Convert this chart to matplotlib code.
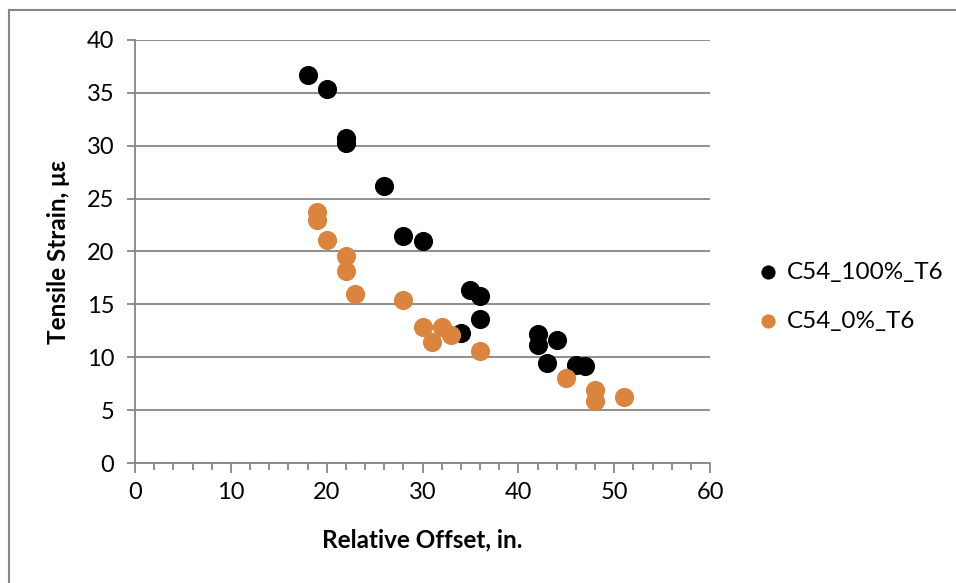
import matplotlib
matplotlib.use("Agg")
import matplotlib.pyplot as plt
from matplotlib.lines import Line2D
from matplotlib.ticker import MultipleLocator

plt.rcParams['font.family'] = ['Lato', 'DejaVu Sans']

# Relative offset (in.) and tensile strain (microstrain)
offset_100 = [18, 20, 22, 22, 26, 28, 30, 35, 36, 36, 34, 42, 42, 44, 43, 46, 47]
strain_100 = [36.7, 35.4, 30.7, 30.3, 26.2, 21.5, 21.0, 16.4, 15.8, 13.6, 12.3,
              12.2, 11.2, 11.6, 9.5, 9.3, 9.2]

offset_0 = [19, 19, 20, 22, 22, 23, 28, 30, 32, 31, 33, 36, 45, 48, 48, 51]
strain_0 = [23.7, 23.0, 21.1, 19.6, 18.2, 16.0, 15.4, 12.9, 12.9, 11.4, 12.1,
            10.6, 8.0, 6.9, 5.9, 6.2]

series_labels = ["C54_100%_T6", "C54_0%_T6"]
x_ticks = [0, 10, 20, 30, 40, 50, 60]
y_ticks = [0, 5, 10, 15, 20, 25, 30, 35, 40]

W, H = 956, 583
fig = plt.figure(figsize=(W / 100, H / 100), dpi=100)
ax = fig.add_axes([135 / W, 1 - 463 / H, (710 - 135) / W, (463 - 40) / H])

grey = "#868686"
ax.scatter(offset_100, strain_100, s=190, color="black", label=series_labels[0],
           zorder=3, linewidths=0)
ax.scatter(offset_0, strain_0, s=190, color="#DB843D", label=series_labels[1],
           zorder=3, linewidths=0)

ax.set_xlim(0, 60)
ax.set_ylim(0, 40)
ax.set_xticks(x_ticks)
ax.set_yticks(y_ticks)
ax.xaxis.set_minor_locator(MultipleLocator(2))
ax.yaxis.grid(True, color=grey, linewidth=1.3)
ax.set_axisbelow(True)

for side in ("top", "right"):
    ax.spines[side].set_visible(False)
for side in ("left", "bottom"):
    ax.spines[side].set_color(grey)
    ax.spines[side].set_linewidth(1.3)

ax.tick_params(axis="x", which="major", direction="out", length=7, width=1.3,
               color=grey, labelsize=17, pad=7)
ax.tick_params(axis="x", which="minor", direction="out", length=5, width=1.3,
               color=grey)
ax.tick_params(axis="y", which="major", direction="out", length=6, width=1.3,
               color=grey, labelsize=17, pad=9)

ax.set_xlabel("Relative Offset, in.", fontsize=17.5, fontweight="bold", labelpad=18)
ax.set_ylabel("Tensile Strain, \u03bc\u03b5", fontsize=17.5, fontweight="bold",
              labelpad=12)

leg = ax.legend(loc="center left", bbox_to_anchor=(1.041, 0.393), frameon=False,
                fontsize=17.5, handletextpad=0.3, markerscale=0.74,
                labelspacing=1.15, handlelength=1.0)

# Chart frame (left and top edges)
fig.add_artist(Line2D([9 / W, 9 / W], [0, 1 - 10 / H], color=grey, linewidth=1.5,
                      transform=fig.transFigure))
fig.add_artist(Line2D([9 / W, 1], [1 - 10 / H, 1 - 10 / H], color=grey,
                      linewidth=1.5, transform=fig.transFigure))

fig.savefig("out.png", dpi=100)
